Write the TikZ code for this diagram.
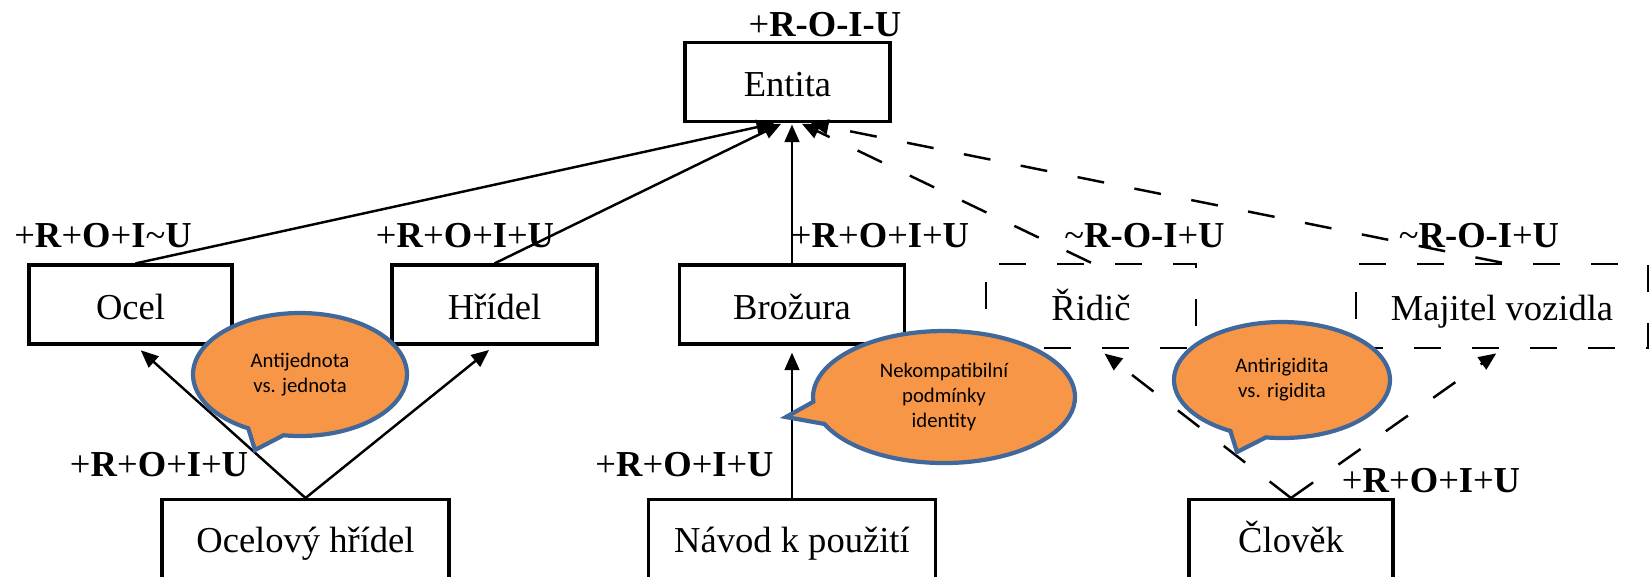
\documentclass[tikz,border=0pt]{standalone}
\usepackage{fontspec}
\setmainfont{Liberation Serif}
\newfontfamily\calibri{Carlito}
\usetikzlibrary{arrows.meta,shapes.callouts}
\definecolor{bubblefill}{HTML}{F79646}
\definecolor{bubbleline}{HTML}{41689A}

\begin{document}
\begin{tikzpicture}[
    font=\fontsize{10.4}{12.5}\selectfont,
    >={Triangle[length=5pt,width=4.2pt]},
    box/.style={draw, line width=0.9pt, fill=white, minimum height=0.79cm, inner sep=0pt, text height=1em, text depth=0.16em},
    dbox/.style={draw, line width=0.75pt, dash pattern=on 7.7pt off 8.8pt, minimum height=0.84cm, inner sep=0pt, text height=1em, text depth=0.2em},
    tag/.style={inner sep=0pt, anchor=base},
    conn/.style={->, line width=0.7pt, shorten >=0.4pt},
    dconn/.style={conn, dash pattern=on 7.7pt off 8.8pt},
    bubble/.style={ellipse callout, draw=bubbleline, line width=1.2pt, fill=bubblefill, callout pointer arc=20, inner sep=0pt, align=center, font=\calibri\fontsize{5.9}{7.1}\selectfont}
]
    \clip (0,0) rectangle (16.5,-5.76);

    % top
    \node[box, minimum width=2.05cm] (entita) at (7.875,-0.82) {Entita};
    \node[tag] (entitaTag) at (8.25,-0.36) {+\textbf{R-O-I-U}};

    % middle row
    \node[box, minimum width=2.03cm] (ocel) at (1.305,-3.045) {Ocel};
    \node[box, minimum width=2.05cm] (hridel) at (4.945,-3.045) {Hřídel};
    \node[box, minimum width=2.25cm] (brozura) at (7.92,-3.045) {Brožura};
    \node[dbox, minimum width=2.10cm] (ridic) at (10.91,-3.06) {Řidič};
    \node[dbox, minimum width=2.92cm] (majitel) at (15.02,-3.06) {Majitel vozidla};

    \node[tag] (ocelTag) at (1.03,-2.47) {+\textbf{R}+\textbf{O}+\textbf{I}\textasciitilde\textbf{U}};
    \node[tag] (hridelTag) at (4.65,-2.47) {+\textbf{R}+\textbf{O}+\textbf{I}+\textbf{U}};
    \node[tag] (brozuraTag) at (8.80,-2.47) {+\textbf{R}+\textbf{O}+\textbf{I}+\textbf{U}};
    \node[tag] (ridicTag) at (11.445,-2.47) {\textasciitilde\textbf{R-O-I}+\textbf{U}};
    \node[tag] (majitelTag) at (14.79,-2.47) {\textasciitilde\textbf{R-O-I}+\textbf{U}};

    % bottom row
    \node[box, anchor=north, minimum width=2.87cm, minimum height=0.86cm, text depth=0.46em] (ocelhr) at (3.055,-4.98) {Ocelový hřídel};
    \node[box, anchor=north, minimum width=2.87cm, minimum height=0.86cm, text depth=0.46em] (navod) at (7.92,-4.98) {Návod k použití};
    \node[box, anchor=north, minimum width=2.04cm, minimum height=0.86cm, text depth=0.46em] (clovek) at (12.91,-4.98) {Člověk};

    \node[tag] (ocelhrTag) at (1.59,-4.76) {+\textbf{R}+\textbf{O}+\textbf{I}+\textbf{U}};
    \node[tag] (navodTag) at (6.845,-4.76) {+\textbf{R}+\textbf{O}+\textbf{I}+\textbf{U}};
    \node[tag] (clovekTag) at (14.31,-4.92) {+\textbf{R}+\textbf{O}+\textbf{I}+\textbf{U}};

    % links to Entita
    \draw[conn] ([xshift=0.5mm]ocel.north) -- ([xshift=-1.2mm]entita.south);
    \draw[conn] (hridel.north) -- ([xshift=-0.5mm]entita.south);
    \draw[conn] (brozura.north) -- (brozura.north |- entita.south);
    \draw[dconn] (ridic.north) -- ([xshift=1.3mm]entita.south);
    \draw[dconn] (majitel.north) -- ([xshift=2.2mm]entita.south);

    % links from the bottom row
    \draw[conn, shorten >=2pt] (ocelhr.north) -- ([xshift=0.5mm]ocel.south);
    \draw[conn, shorten >=2pt] (ocelhr.north) -- (hridel.south);
    \draw[conn, shorten >=2pt] (navod.north) -- (brozura.south);
    \draw[dconn, shorten >=2pt] (clovek.north) -- ([xshift=0.8mm]ridic.south);
    \draw[dconn, shorten >=2pt] (clovek.north) -- (majitel.south);

    % callouts
    \node[bubble, minimum width=2.14cm, minimum height=1.23cm, callout absolute pointer={(2.55,-4.50)}] (jednota) at (3.00,-3.745) {Antijednota\\vs. jednota};
    \node[bubble, minimum width=2.62cm, minimum height=1.32cm, callout absolute pointer={(7.86,-4.17)}] (kompat) at (9.44,-3.97) {Nekompatibilní\\podmínky\\identity};
    \node[bubble, minimum width=2.16cm, minimum height=1.16cm, callout absolute pointer={(12.37,-4.52)}] (rigid) at (12.82,-3.80) {Antirigidita\\vs. rigidita};
\end{tikzpicture}
\end{document}
